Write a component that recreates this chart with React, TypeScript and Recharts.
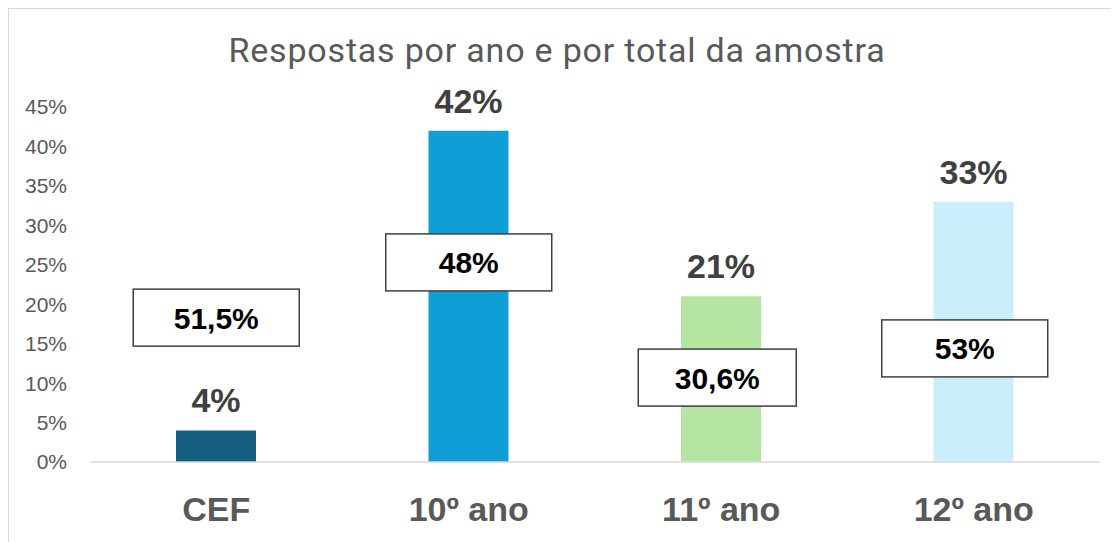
import React from 'react';
import { ComposedChart, Bar, Line, XAxis, YAxis, Cell, LabelList } from 'recharts';

const categories = ['CEF', '10º ano', '11º ano', '12º ano'];
const yearShare = [4, 42, 21, 33];
const sampleShare = [51.5, 48, 30.6, 53];
// vertical position of each boxed label, in axis units (%)
const boxAnchor = [18.3, 25.3, 10.7, 14.4];
const yTicks = [0, 5, 10, 15, 20, 25, 30, 35, 40, 45];
const barColors = ['#175F81', '#0F9ED5', '#B4E5A2', '#CAEEFB'];

const boxLayout = [
  { w: 166, dx: 0 },
  { w: 166, dx: 0 },
  { w: 158, dx: -4 },
  { w: 166, dx: -9 },
];

const data = categories.map((c, i) => ({
  name: c,
  year: yearShare[i],
  sample: sampleShare[i],
  anchor: boxAnchor[i],
}));

const fmtSample = (v: number) => String(v).replace('.', ',') + '%';

const BoxLabel = (props: any) => {
  const vb = props.viewBox || {};
  const x = props.x ?? vb.x;
  const y = props.y ?? vb.y;
  const i = props.index ?? 0;
  const { w, dx } = boxLayout[i] || boxLayout[0];
  const h = 57;
  const cx = x + dx;
  return (
    <g>
      <rect x={cx - w / 2} y={y - h / 2} width={w} height={h} fill="#ffffff" stroke="#404040" strokeWidth={1.5} />
      <text
        x={cx}
        y={y + 11}
        textAnchor="middle"
        fontFamily="'Liberation Sans', Arial, sans-serif"
        fontWeight={700}
        fontSize={30}
        fill="#000000"
      >
        {fmtSample(props.value)}
      </text>
    </g>
  );
};

export default function App() {
  return (
    <div
      style={{
        position: 'relative',
        width: 1111,
        height: 534,
        borderTop: '1px solid #d9d9d9',
        borderLeft: '1px solid #d9d9d9',
        boxSizing: 'border-box',
        overflow: 'hidden',
        background: '#ffffff',
      }}
    >
      <div
        style={{
          position: 'absolute',
          left: 148,
          top: 24,
          width: 800,
          textAlign: 'center',
          fontFamily: 'Roboto, sans-serif',
          fontSize: 34,
          lineHeight: '34px',
          letterSpacing: '0.8px',
          color: '#595959',
          whiteSpace: 'nowrap',
        }}
      >
        Respostas por ano e por total da amostra
      </div>
      <ComposedChart
        width={1110}
        height={533}
        data={data}
        margin={{ top: 98, right: 19, left: 0, bottom: 0 }}
      >
        <XAxis
          dataKey="name"
          height={80}
          tickLine={false}
          axisLine={{ stroke: '#d9d9d9', strokeWidth: 1.5 }}
          tickMargin={29}
          tick={{
            fill: '#595959',
            fontSize: 34,
            fontWeight: 700,
            fontFamily: "'Liberation Sans', Arial, sans-serif",
          }}
        />
        <YAxis
          width={81}
          domain={[0, 45]}
          ticks={yTicks}
          interval={0}
          axisLine={false}
          tickLine={false}
          tickMargin={17}
          tickFormatter={(v: number) => `${v}%`}
          tick={{
            fill: '#595959',
            fontSize: 21,
            fontFamily: "'Liberation Sans', Arial, sans-serif",
          }}
        />
        <Bar dataKey="year" barSize={80} isAnimationActive={false}>
          {data.map((d, i) => (
            <Cell key={d.name} fill={barColors[i]} />
          ))}
          <LabelList
            dataKey="year"
            position="top"
            offset={18}
            formatter={(v: number) => `${v}%`}
            fill="#404040"
            fontSize={34}
            fontWeight={700}
            fontFamily="'Liberation Sans', Arial, sans-serif"
          />
        </Bar>
        <Line
          dataKey="anchor"
          stroke="none"
          dot={false}
          activeDot={false}
          isAnimationActive={false}
        >
          <LabelList dataKey="sample" content={<BoxLabel />} />
        </Line>
      </ComposedChart>
    </div>
  );
}
